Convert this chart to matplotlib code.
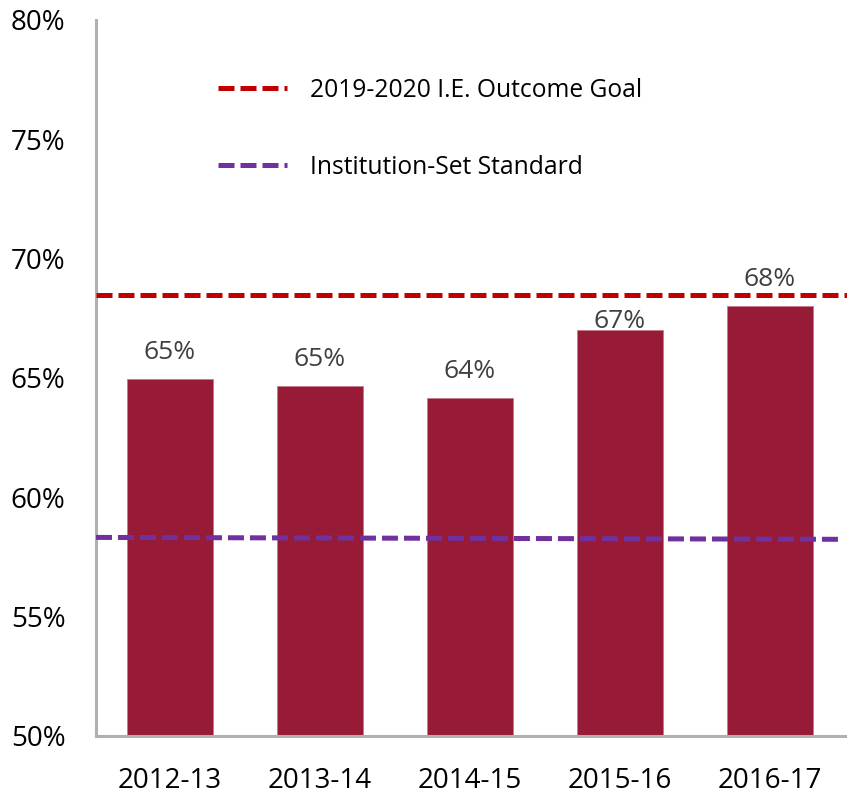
import matplotlib
matplotlib.use("Agg")
import matplotlib.pyplot as plt
from matplotlib.lines import Line2D

# values
years = ["2012-13", "2013-14", "2014-15", "2015-16", "2016-17"]
rates = [64.96, 64.66, 64.16, 67.0, 68.0]
rate_labels = ["65%", "65%", "64%", "67%", "68%"]
goal = 68.47
standard = [58.32, 58.24]  # drawn slightly sloped in the original
yticks = [50, 55, 60, 65, 70, 75, 80]

# label nudges (points) - the 67% label was pushed under the goal line
label_offsets = [10, 10, 10, -3, 10]

bar_color = "#971B36"
goal_color = "#C00000"
std_color = "#7030A0"

plt.rcParams["font.family"] = ["Open Sans", "DejaVu Sans"]

fig = plt.figure(figsize=(8.47, 7.93), dpi=100)
ax = fig.add_axes([0.1133, 0.0719, 0.8867, 0.9029])

x = range(len(years))
ax.bar(x, rates, width=0.573, color=bar_color, edgecolor="#C77A8A", linewidth=0.6, zorder=2)

for i, (v, lab) in enumerate(zip(rates, rate_labels)):
    ax.annotate(lab, (i, v), xytext=(0, label_offsets[i]), textcoords="offset points",
                ha="center", va="bottom", fontsize=19, color="#404040", zorder=4)

dash = (3.2, 1.2)
ax.axhline(goal, color=goal_color, lw=3.6, dashes=dash, zorder=3)
ax.plot([-0.493, 4.48], standard, color=std_color, lw=3.6, dashes=dash, zorder=3)

ax.set_xlim(-0.493, 4.513)
ax.set_ylim(50, 80)
ax.set_yticks(yticks)
ax.set_yticklabels([f"{t}%" for t in yticks])
ax.set_xticks(list(x))
ax.set_xticklabels(years)
ax.tick_params(axis="y", length=0, pad=22, labelsize=20)
ax.tick_params(axis="x", length=0, pad=22, labelsize=20)

for side in ("top", "right"):
    ax.spines[side].set_visible(False)
for side in ("left", "bottom"):
    ax.spines[side].set_color("#B0B0B0")
    ax.spines[side].set_linewidth(2.2)

handles = [Line2D([], [], color=goal_color, lw=3.6, dashes=dash),
           Line2D([], [], color=std_color, lw=3.6, dashes=dash)]
ax.legend(handles, ["2019-2020 I.E. Outcome Goal", "Institution-Set Standard"],
          loc="upper left", bbox_to_anchor=(0.1625, 0.919), frameon=False,
          fontsize=17.7, handlelength=2.8, handletextpad=0.95, labelspacing=2.12,
          borderpad=0, borderaxespad=0)

fig.savefig("out.png", dpi=100)
